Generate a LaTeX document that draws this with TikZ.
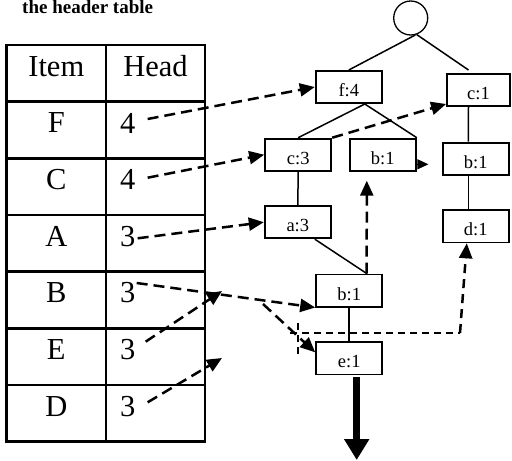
\documentclass[tikz,border=0pt]{standalone}
\usepackage{fontspec}
\setmainfont{Liberation Serif}
\usetikzlibrary{arrows.meta,calc}
\begin{document}
\begin{tikzpicture}[x=1pt,y=-1pt,
  cell/.style={inner sep=0pt,font=\fontsize{30.5}{32}\selectfont},
  tnode/.style={draw,line width=1.8pt,minimum width=66.2pt,minimum height=32.2pt,
    inner sep=0pt,text height=19pt,text depth=0pt,font=\fontsize{18.5}{20}\selectfont},
  edge/.style={line width=1.5pt},
  link/.style={line width=2.5pt,dash pattern=on 11pt off 6pt,
    -{Triangle[length=15pt,width=13pt]}},
  thinlink/.style={line width=1.6pt,dash pattern=on 7pt off 5pt}]
\useasboundingbox (0,0) rectangle (512,461);

% title
\node[anchor=base west,inner sep=0pt,font=\fontsize{19}{20}\selectfont\bfseries]
  (title) at (22,13.6) {the header table};

% header table grid
\draw[line width=2.5pt] (6.7,45) rectangle (205,441.7);
\draw[line width=2.5pt] (106,45) -- (106,441.7);
\foreach \r in {1,...,6}
  \draw[line width=2.5pt] (6.7,45+56.67*\r) -- (205,45+56.67*\r);

\node[cell] (iItem) at (56.3,66.3) {Item};
\node[cell] (iHead) at (155.5,66.3) {Head};
\node[cell] (iF) at (56.3,123) {F};
\node[cell] (iC) at (56.3,179.7) {C};
\node[cell] (iA) at (56.3,236.3) {A};
\node[cell] (iB) at (56.3,293) {B};
\node[cell] (iE) at (56.3,349.7) {E};
\node[cell] (iD) at (56.3,406.3) {D};
\node[cell,anchor=west] (hF) at (120,123) {4};
\node[cell,anchor=west] (hC) at (120,179.7) {4};
\node[cell,anchor=west] (hA) at (120,236.3) {3};
\node[cell,anchor=west] (hB) at (120,293) {3};
\node[cell,anchor=west] (hE) at (120,349.7) {3};
\node[cell,anchor=west] (hD) at (120,406.3) {3};

% FP-tree
\node[circle,draw,line width=1.3pt,minimum size=34pt,inner sep=0pt] (root) at (410.7,18) {};
\node[tnode] (f4) at (348.8,87) {f:4};
\node[tnode,minimum width=63pt] (c1) at (478.5,90) {c:1};
\node[tnode] (c3) at (298.2,154.7) {c:3};
\node[tnode] (b1m) at (382.8,154.7) {b:1};
\node[tnode] (b1r) at (475.8,158.7) {b:1};
\node[tnode] (a3) at (297.8,222.2) {a:3};
\node[tnode] (d1) at (475.8,226.3) {d:1};
\node[tnode] (b1b) at (349.2,290.5) {b:1};
\node[tnode] (e1) at (349.2,358.3) {e:1};

\draw[edge] (root.-75) -- (f4.north);
\draw[edge] (root.-70) -- ($(c1.north)+(-10,-3)$);
\draw[edge] ($(f4.south)+(16,0)$) -- (c3.north);
\draw[edge] ($(f4.south)+(16,0)$) -- (b1m.north east);
\draw[edge] ($(c1.south)+(-10,0)$) -- ($(b1r.north)+(-7.5,0)$);
\draw[edge] ($(b1r.south)+(-7.5,0)$) -- ($(d1.north)+(-7.5,0)$);
\draw[edge] (c3.south) -- (a3.north);
\draw[edge] ($(a3.south)+(17,0)$) -- ($(b1b.north)+(17.5,0)$);
\draw[edge] (b1b.south) -- (e1.north);

% node-links from the header table
\coordinate (eTip) at (222,291);
\coordinate (dTip) at (222,358);
\coordinate (fork) at (263,304);
\coordinate (vTop) at (298,323);
\coordinate (vBot) at (298,358);
\coordinate (hStart) at (290,333);
\coordinate (hEnd) at (460,333);

\draw[link] ($(hF.east)+(12,-4)$) -- (f4.west);
\draw[link] ($(hC.east)+(12,-2)$) -- (c3.west);
\draw[link] (c3.north east) -- ($(c1.south west)+(0,-3)$);
\draw[link] ($(hA.east)+(2,2)$) -- (a3.west);
\draw[link] ($(hB.east)+(1,-10)$) -- (b1b.south west);
\draw[link] ($(hE.east)+(10,-8)$) -- (eTip);
\draw[link] ($(hD.east)+(12,-4)$) -- (dTip);
\draw[link] ($(b1b.north)+(17.5,0)$) -- ($(b1m.south)+(-16,9)$);
\draw[line width=1pt,-{Triangle[length=11pt,width=10pt]}] ($(b1m.east)+(0,9.6)$) -- ++(11.6,0);
\draw[link] (fork) -- ($(e1.west)+(0,-6)$);
\draw[thinlink] (vTop) -- (vBot);
\draw[thinlink] (hStart) -- (hEnd);
\draw[link,dash pattern=on 9pt off 6pt] (hEnd) -- ($(d1.south)+(-9,0)$);

% output arrow
\draw[line width=7pt,-{Triangle[length=21pt,width=24pt]}] ($(e1.south)+(7.5,2)$) -- (356.7,460);
\end{tikzpicture}
\end{document}
